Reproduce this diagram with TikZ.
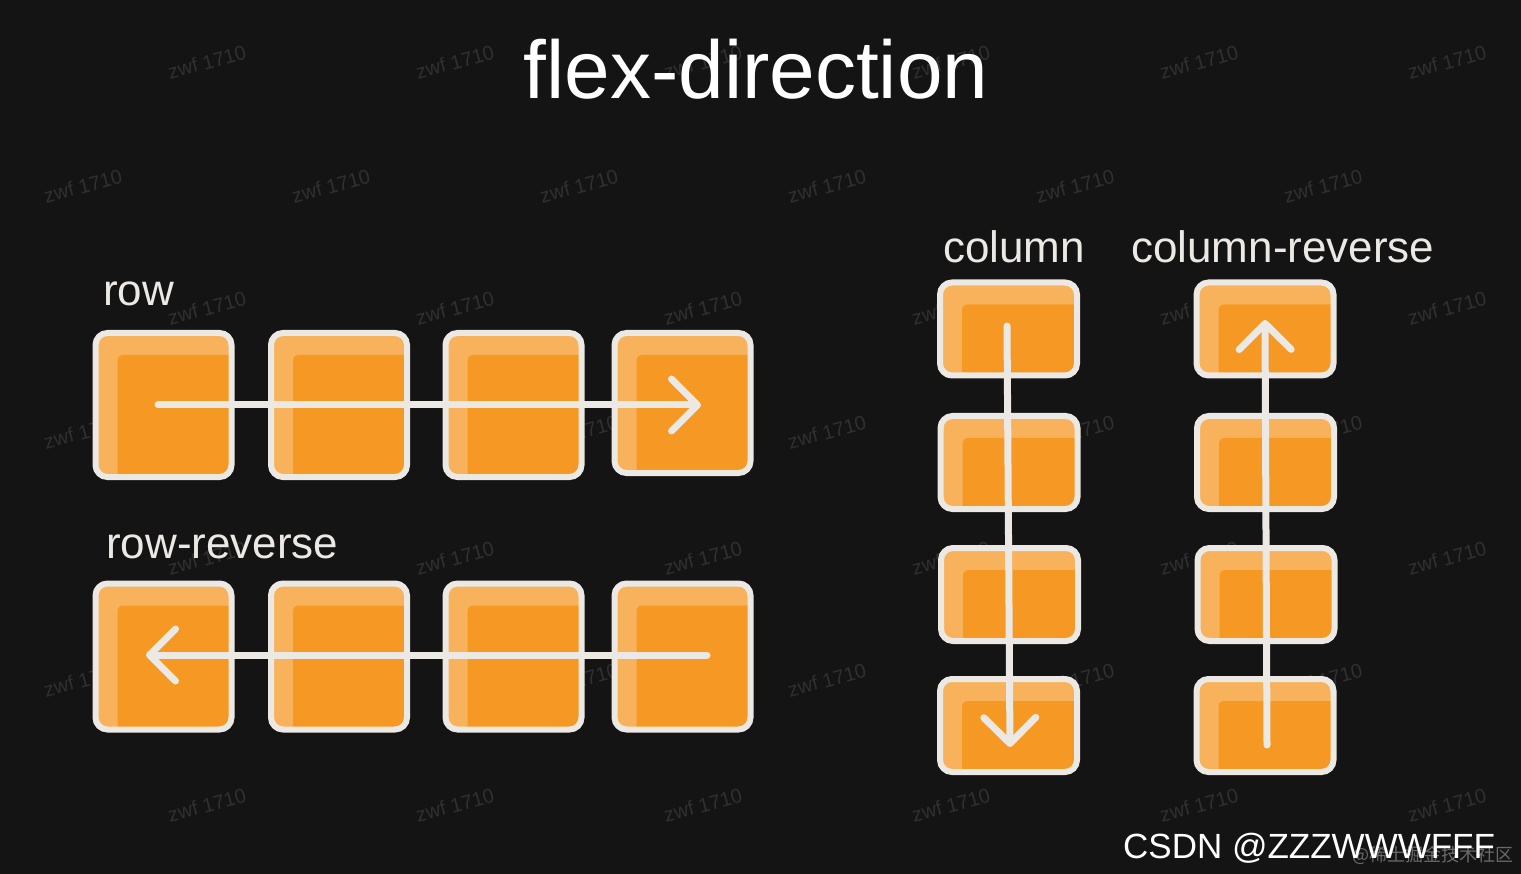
\documentclass[tikz,border=0pt]{standalone}
\usepackage{fontspec}
\setmainfont{Liberation Sans}
\newfontfamily\cjkfont{Noto Sans CJK SC}
\usetikzlibrary{arrows.meta}
\definecolor{bgc}{RGB}{20,20,20}
\definecolor{orangemain}{RGB}{246,152,36}
\definecolor{orangelight}{RGB}{249,178,92}
\definecolor{edgec}{RGB}{236,233,228}
\definecolor{wmc}{RGB}{48,48,48}
\definecolor{cjkc}{RGB}{105,105,105}
\begin{document}
\begin{tikzpicture}[x=1pt,y=-1pt,
  flexbox/.style={draw=edgec, line width=6pt, rounded corners=12pt, fill=orangelight, inner sep=0pt,
    path picture={\fill[orangemain, rounded corners=5pt]
      ([shift={(22pt,-22pt)}]path picture bounding box.north west) rectangle
      ([shift={(6pt,-6pt)}]path picture bounding box.south east);}},
  rowbox/.style={flexbox, minimum width=136pt, minimum height=144pt},
  rrbox/.style={flexbox, minimum width=136pt, minimum height=146pt},
  colbox/.style={flexbox, minimum width=137pt, minimum height=93pt},
  flow/.style={draw=edgec, line width=7pt, line cap=round,
    -{Straight Barb[length=26pt,width=52pt,round]}},
  lbl/.style={text=edgec, inner sep=0pt, anchor=base west, font=\fontsize{44}{50}\selectfont},
  wm/.style={text=wmc, inner sep=0pt, rotate=15, font=\fontsize{20}{22}\selectfont}
]
% background / bounding box
\fill[bgc] (0,0) rectangle (1521,874);
\useasboundingbox (0,0) rectangle (1521,874);

% watermarks
\foreach \y [count=\j] in {62,308,558,805}{
  \foreach \x [count=\i] in {207,455,703,951,1199,1447}
    \node[wm] (wmA\j-\i) at (\x,\y) {zwf 1710};
}
\foreach \y [count=\j] in {186,432,680}{
  \foreach \x [count=\i] in {83,331,579,827,1075,1323}
    \node[wm] (wmB\j-\i) at (\x,\y) {zwf 1710};
}

% title
\node[text=white, inner sep=0pt, anchor=base, font=\fontsize{82}{90}\selectfont] (title) at (756,99) {flex-direction};

% labels
\node[lbl] (lrow) at (103,306) {row};
\node[lbl] (lrowrev) at (106,558) {row-reverse};
\node[lbl] (lcol) at (943,263) {column};
\node[lbl] (lcolrev) at (1131,263) {column-reverse};

% row
\node[rowbox] (r1) at (163.5,405) {};
\node[rowbox] (r2) at (339,405) {};
\node[rowbox] (r3) at (513.5,405) {};
\node[rowbox, minimum height=140pt] (r4) at (682.5,403) {};

% row-reverse
\node[rrbox] (rr1) at (163.5,656.5) {};
\node[rrbox] (rr2) at (339,656.5) {};
\node[rrbox] (rr3) at (513.5,656.5) {};
\node[rrbox] (rr4) at (682.5,656.5) {};

% column
\node[colbox] (c1) at (1008.5,329) {};
\node[colbox] (c2) at (1009,462.5) {};
\node[colbox] (c3) at (1009.5,594.5) {};
\node[colbox] (c4) at (1008.5,725.5) {};

% column-reverse
\node[colbox] (cr1) at (1265,329) {};
\node[colbox] (cr2) at (1265.5,462.5) {};
\node[colbox] (cr3) at (1266,594.5) {};
\node[colbox] (cr4) at (1265,725.5) {};

% arrow end points
\coordinate (rowS) at (158,405);
\coordinate (rowE) at (701,405);
\coordinate (rrS) at (707,655);
\coordinate (rrE) at (146,655);
\coordinate (colS) at (1007,326);
\coordinate (colE) at (1010,747);
\coordinate (crS) at (1267,745);
\coordinate (crE) at (1265,320);

\draw[flow] (rowS) -- (rowE);
\draw[flow] (rrS) -- (rrE);
\draw[flow] (colS) -- (colE);
\draw[flow] (crS) -- (crE);

% credits
\node[text=cjkc, inner sep=0pt, anchor=base west, font=\cjkfont\fontsize{18}{20}\selectfont] (juejin) at (1352,861) {@稀土掘金技术社区};
\node[text=white, inner sep=0pt, anchor=base west, font=\fontsize{35}{40}\selectfont] (csdn) at (1123,858) {CSDN @ZZZWWWFFF};
\end{tikzpicture}
\end{document}
